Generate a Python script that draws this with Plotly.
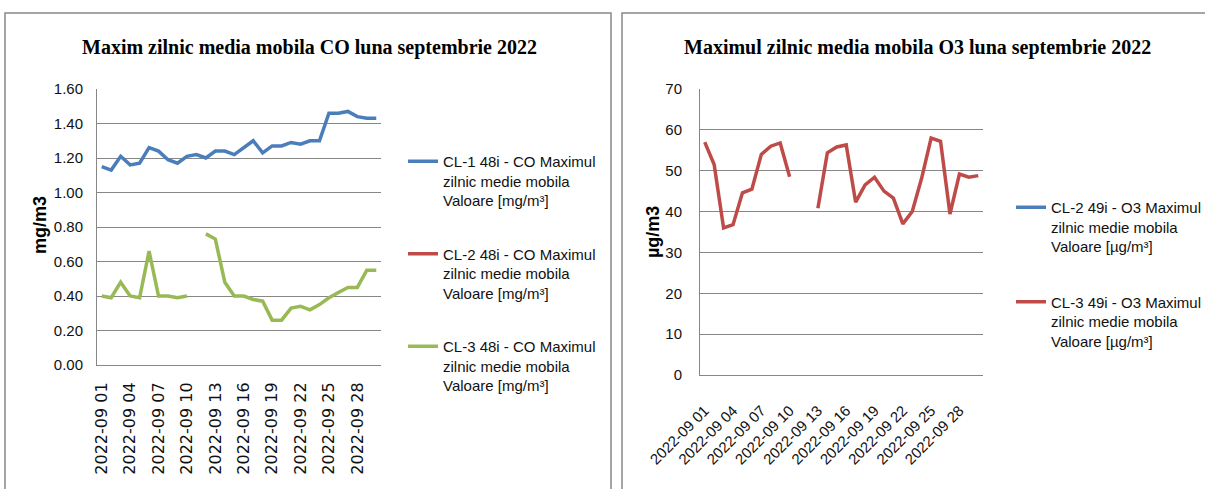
import plotly.graph_objects as go

W, H = 1205, 489

days = ["2022-09 01", "2022-09 02", "2022-09 03", "2022-09 04", "2022-09 05",
        "2022-09 06", "2022-09 07", "2022-09 08", "2022-09 09", "2022-09 10",
        "2022-09 11", "2022-09 12", "2022-09 13", "2022-09 14", "2022-09 15",
        "2022-09 16", "2022-09 17", "2022-09 18", "2022-09 19", "2022-09 20",
        "2022-09 21", "2022-09 22", "2022-09 23", "2022-09 24", "2022-09 25",
        "2022-09 26", "2022-09 27", "2022-09 28", "2022-09 29", "2022-09 30"]
tick_days = ["2022-09 01", "2022-09 04", "2022-09 07", "2022-09 10", "2022-09 13",
             "2022-09 16", "2022-09 19", "2022-09 22", "2022-09 25", "2022-09 28"]

co_cl1 = [1.15, 1.13, 1.21, 1.16, 1.17, 1.26, 1.24, 1.19, 1.17, 1.21,
          1.22, 1.20, 1.24, 1.24, 1.22, 1.26, 1.30, 1.23, 1.27, 1.27,
          1.29, 1.28, 1.30, 1.30, 1.46, 1.46, 1.47, 1.44, 1.43, 1.43]
co_cl2 = [None] * 30
co_cl3 = [0.40, 0.39, 0.48, 0.40, 0.39, 0.66, 0.40, 0.40, 0.39, 0.40,
          None, 0.76, 0.73, 0.48, 0.40, 0.40, 0.38, 0.37, 0.26, 0.26,
          0.33, 0.34, 0.32, 0.35, 0.39, 0.42, 0.45, 0.45, 0.55, 0.55]

o3_cl2 = [None] * 30
o3_cl3 = [57.0, 51.5, 36.0, 36.8, 44.6, 45.5, 54.0, 56.0, 56.8, 48.5,
          None, None, 40.8, 54.4, 55.8, 56.3, 42.3, 46.5, 48.4, 45.0,
          43.3, 37.0, 40.0, 48.2, 58.0, 57.2, 39.4, 49.2, 48.4, 48.8]

names_co = ["CL-1 48i - CO Maximul<br>zilnic medie mobila<br>Valoare [mg/m³]",
            "CL-2 48i - CO Maximul<br>zilnic medie mobila<br>Valoare [mg/m³]",
            "CL-3 48i - CO Maximul<br>zilnic medie mobila<br>Valoare [mg/m³]"]
names_o3 = ["CL-2 49i - O3 Maximul<br>zilnic medie mobila<br>Valoare [µg/m³]",
            "CL-3 49i - O3 Maximul<br>zilnic medie mobila<br>Valoare [µg/m³]"]

BLUE, RED, GREEN = "#4A7EBB", "#BE4B48", "#98B954"
GRID = "#878787"
SANS = "Liberation Sans, Arial, sans-serif"
SERIF = "Liberation Serif, Times New Roman, serif"
TXT = "#111111"

fig = go.Figure()
for vals, name, col in zip([co_cl1, co_cl2, co_cl3], names_co, [BLUE, RED, GREEN]):
    fig.add_trace(go.Scatter(x=days, y=vals, name=name, mode="lines",
                             line=dict(color=col, width=3.5), connectgaps=False,
                             xaxis="x", yaxis="y", legend="legend",
                             legendgroup=name))
for vals, name, col in zip([o3_cl2, o3_cl3], names_o3, [BLUE, RED]):
    fig.add_trace(go.Scatter(x=days, y=vals, name=name, mode="lines",
                             line=dict(color=col, width=3.5), connectgaps=False,
                             xaxis="x2", yaxis="y2", legend="legend2",
                             legendgroup=name))

xcommon = dict(type="category", categoryorder="array", categoryarray=days,
               range=[-0.5, 29.5], tickmode="array", tickvals=tick_days,
               showgrid=False, showline=True, linecolor=GRID, linewidth=1,
               ticks="", zeroline=False)

fig.update_layout(
    width=W, height=H, autosize=False,
    margin=dict(l=0, r=0, t=0, b=0, autoexpand=False),
    paper_bgcolor="white", plot_bgcolor="white",
    xaxis=dict(domain=[97 / W, 381 / W], anchor="y", tickangle=-90,
               tickfont=dict(family="DejaVu Sans", size=16, color=TXT),
               ticklabelstandoff=10, **xcommon),
    yaxis=dict(domain=[(H - 365) / H, (H - 89) / H], anchor="x",
               range=[0, 1.6], dtick=0.2, tickformat=".2f",
               showgrid=True, gridcolor=GRID, gridwidth=1,
               showline=True, linecolor=GRID, linewidth=1, zeroline=False,
               tickfont=dict(family=SANS, size=15, color=TXT),
               ticklabelstandoff=10),
    xaxis2=dict(domain=[700 / W, 983 / W], anchor="y2", tickangle=-45,
                tickfont=dict(family=SANS, size=15, color=TXT),
                ticklabelstandoff=20, **xcommon),
    yaxis2=dict(domain=[(H - 375) / H, (H - 89) / H], anchor="x2",
                range=[0, 70], dtick=10,
                showgrid=True, gridcolor=GRID, gridwidth=1,
                showline=True, linecolor=GRID, linewidth=1, zeroline=False,
                tickfont=dict(family=SANS, size=15, color=TXT),
                ticklabelstandoff=14),
    legend=dict(x=403 / W, y=(H - 145) / H, xanchor="left", yanchor="top",
                valign="top", tracegroupgap=31, bgcolor="rgba(0,0,0,0)",
                font=dict(family=SANS, size=15, color=TXT)),
    legend2=dict(x=1011 / W, y=(H - 191) / H, xanchor="left", yanchor="top",
                 valign="top", tracegroupgap=33, bgcolor="rgba(0,0,0,0)",
                 font=dict(family=SANS, size=15, color=TXT)),
    showlegend=True,
)

fig.add_annotation(text="<b>Maxim zilnic media mobila CO luna septembrie 2022</b>",
                   x=309 / W, y=(H - 47) / H, xref="paper", yref="paper",
                   showarrow=False, xanchor="center", yanchor="middle",
                   font=dict(family=SERIF, size=20, color="#000"))
fig.add_annotation(text="<b>Maximul zilnic media mobila O3 luna septembrie 2022</b>",
                   x=917 / W, y=(H - 47) / H, xref="paper", yref="paper",
                   showarrow=False, xanchor="center", yanchor="middle",
                   font=dict(family=SERIF, size=20, color="#000"))
fig.add_annotation(text="<b>mg/m3</b>", x=40 / W, y=(H - 225) / H,
                   xref="paper", yref="paper", showarrow=False, textangle=-90,
                   xanchor="center", yanchor="middle",
                   font=dict(family=SANS, size=18, color="#000"))
fig.add_annotation(text="<b>µg/m3</b>", x=653 / W, y=(H - 232) / H,
                   xref="paper", yref="paper", showarrow=False, textangle=-90,
                   xanchor="center", yanchor="middle",
                   font=dict(family=SANS, size=18, color="#000"))

fig.add_shape(type="rect", xref="paper", yref="paper",
              x0=5 / W, x1=611 / W, y0=-0.1, y1=(H - 13) / H,
              line=dict(color="#888888", width=1.5), layer="below")
fig.add_shape(type="rect", xref="paper", yref="paper",
              x0=622 / W, x1=1.1, y0=-0.1, y1=(H - 13) / H,
              line=dict(color="#888888", width=1.5), layer="below")

fig.write_html("out.html", config={"displayModeBar": False},
               post_script="document.body.style.margin='0px';")
